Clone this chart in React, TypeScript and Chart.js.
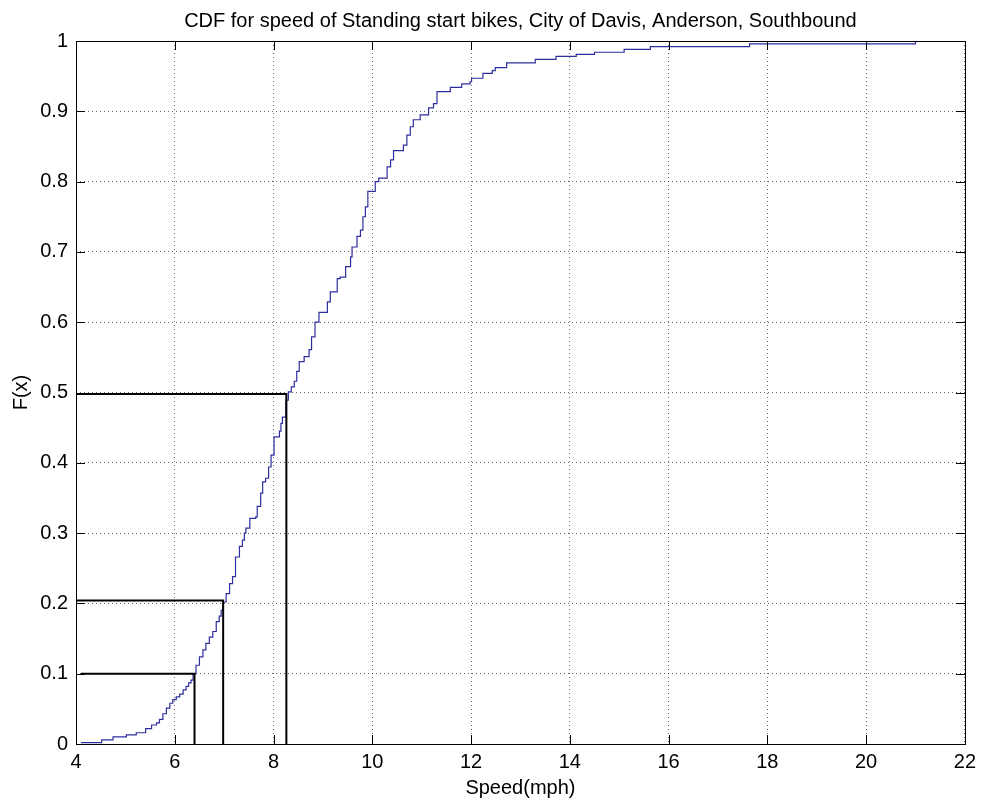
import React, { useEffect, useRef } from "react";
import { Chart, registerables } from "chart.js";

Chart.register(...registerables);

const titleText = "CDF for speed of Standing start bikes, City of Davis, Anderson, Southbound";
const xAxisLabel = "Speed(mph)";
const yAxisLabel = "F(x)";

const xTickValues = [4, 6, 8, 10, 12, 14, 16, 18, 20, 22];
const yTickValues = [0, 0.1, 0.2, 0.3, 0.4, 0.5, 0.6, 0.7, 0.8, 0.9, 1];

// Empirical CDF: speed (mph) where each step occurs, and F(x) after the step
const cdfSpeeds = [
  4.10, 4.52, 4.75, 5.02, 5.22, 5.41, 5.53, 5.63, 5.69, 5.76,
  5.83, 5.90, 5.96, 6.03, 6.10, 6.17, 6.23, 6.28, 6.33, 6.37,
  6.43, 6.50, 6.57, 6.63, 6.70, 6.77, 6.84, 6.90, 6.94, 6.98,
  7.04, 7.11, 7.17, 7.23, 7.31, 7.37, 7.41, 7.44, 7.52, 7.64,
  7.67, 7.74, 7.78, 7.84, 7.90, 7.95, 8.01, 8.12, 8.15, 8.18,
  8.25, 8.30, 8.36, 8.42, 8.47, 8.52, 8.62, 8.72, 8.77, 8.84,
  8.92, 9.09, 9.15, 9.29, 9.35, 9.46, 9.56, 9.59, 9.69, 9.76,
  9.81, 9.86, 9.91, 10.06, 10.13, 10.30, 10.37, 10.43, 10.63, 10.70,
  10.77, 10.83, 10.97, 11.14, 11.24, 11.31, 11.58, 11.81, 11.98, 12.01,
  12.24, 12.43, 12.49, 12.72, 13.30, 13.72, 14.13, 14.50, 15.10, 15.63,
  17.64, 21.00,
];
const cdfValues = [
  0.002, 0.006, 0.010, 0.013, 0.016, 0.022, 0.027, 0.030, 0.035, 0.043,
  0.051, 0.058, 0.063, 0.067, 0.071, 0.077, 0.082, 0.087, 0.091, 0.100,
  0.112, 0.124, 0.134, 0.143, 0.152, 0.160, 0.174, 0.182, 0.190, 0.202,
  0.214, 0.228, 0.238, 0.266, 0.281, 0.290, 0.300, 0.307, 0.321, 0.323,
  0.338, 0.357, 0.373, 0.378, 0.394, 0.411, 0.437, 0.445, 0.456, 0.465,
  0.489, 0.501, 0.508, 0.516, 0.530, 0.544, 0.551, 0.561, 0.579, 0.600,
  0.614, 0.629, 0.643, 0.662, 0.664, 0.679, 0.693, 0.707, 0.722, 0.731,
  0.750, 0.764, 0.786, 0.800, 0.805, 0.821, 0.831, 0.844, 0.852, 0.866,
  0.878, 0.888, 0.895, 0.905, 0.911, 0.928, 0.934, 0.939, 0.942, 0.947,
  0.954, 0.958, 0.962, 0.969, 0.974, 0.978, 0.981, 0.984, 0.988, 0.992,
  0.996, 1.000,
];

// Percentile marker lines
const percentileLevels = [0.1, 0.204, 0.498];
const percentileSpeeds = [6.40, 6.98, 8.26];
const percentileStarts = [4.1, 4.0, 4.0];

const FONT = '"Liberation Sans", Arial, Helvetica, sans-serif';

const framePlugin = {
  id: "matlabFrame",
  afterDraw(chart: any) {
    const { ctx, chartArea } = chart;
    const { left, right, top, bottom } = chartArea;
    const xs = chart.scales.x;
    const ys = chart.scales.y;
    ctx.save();
    ctx.strokeStyle = "#000";
    ctx.lineWidth = 1;
    ctx.beginPath();
    const tl = 9;
    xTickValues.forEach((v) => {
      const px = Math.round(xs.getPixelForValue(v)) + 0.5;
      ctx.moveTo(px, bottom);
      ctx.lineTo(px, bottom - tl);
      ctx.moveTo(px, top);
      ctx.lineTo(px, top + tl);
    });
    yTickValues.forEach((v) => {
      const py = Math.round(ys.getPixelForValue(v)) + 0.5;
      ctx.moveTo(left, py);
      ctx.lineTo(left + tl, py);
      ctx.moveTo(right, py);
      ctx.lineTo(right - tl, py);
    });
    ctx.stroke();
    ctx.strokeRect(Math.round(left) + 0.5, Math.round(top) + 0.5, Math.round(right - left), Math.round(bottom - top));
    // title
    ctx.fillStyle = "#000";
    ctx.font = `20px ${FONT}`;
    ctx.textAlign = "center";
    ctx.textBaseline = "middle";
    ctx.fillText(titleText, (left + right) / 2, 21);
    ctx.restore();
  },
};

export default function App() {
  const canvasRef = useRef<HTMLCanvasElement | null>(null);

  useEffect(() => {
    document.body.style.margin = "0";
    const canvas = canvasRef.current;
    if (!canvas) return;

    const percentileDatasets = percentileLevels.map((lvl, i) => ({
      label: `p${i}`,
      data: [
        { x: percentileStarts[i], y: lvl },
        { x: percentileSpeeds[i], y: lvl },
        { x: percentileSpeeds[i], y: 0 },
      ],
      borderColor: "#000",
      borderWidth: 2,
      pointRadius: 0,
      fill: false,
      tension: 0,
      order: 1,
    }));

    const chart = new Chart(canvas, {
      type: "line",
      data: {
        datasets: [
          {
            label: "CDF",
            data: cdfSpeeds.map((s, i) => ({ x: s, y: cdfValues[i] })),
            borderColor: "#2e2e9e",
            borderWidth: 1.2,
            pointRadius: 0,
            stepped: "before",
            fill: false,
            order: 2,
          },
          ...percentileDatasets,
        ] as any,
      },
      options: {
        animation: false,
        responsive: false,
        devicePixelRatio: 1,
        layout: { padding: { top: 41, right: 13, bottom: 0, left: 0 } },
        plugins: {
          legend: { display: false },
          tooltip: { enabled: false },
          title: { display: false },
        },
        scales: {
          x: {
            type: "linear",
            min: 4,
            max: 22,
            afterBuildTicks: (scale: any) => {
              scale.ticks = xTickValues.map((v) => ({ value: v }));
            },
            afterFit: (scale: any) => {
              scale.height = 57;
            },
            ticks: {
              color: "#000",
              font: { family: FONT, size: 20 },
              padding: 6,
              maxRotation: 0,
              autoSkip: false,
              callback: (v: any) => String(v),
            },
            grid: {
              color: "rgba(0,0,0,0.6)",
              lineWidth: 1,
              drawTicks: false,
            },
            border: { display: false, dash: [1, 3] },
            title: {
              display: true,
              text: xAxisLabel,
              color: "#000",
              font: { family: FONT, size: 20 },
              padding: { top: 0, bottom: 1 },
            },
          },
          y: {
            type: "linear",
            min: 0,
            max: 1,
            afterBuildTicks: (scale: any) => {
              scale.ticks = yTickValues.map((v) => ({ value: v }));
            },
            afterFit: (scale: any) => {
              scale.width = 76;
            },
            ticks: {
              color: "#000",
              font: { family: FONT, size: 20 },
              padding: 8,
              autoSkip: false,
              callback: (v: any) => String(Math.round(Number(v) * 10) / 10),
            },
            grid: {
              color: "rgba(0,0,0,0.6)",
              lineWidth: 1,
              drawTicks: false,
            },
            border: { display: false, dash: [1, 3] },
            title: {
              display: true,
              text: yAxisLabel,
              color: "#000",
              font: { family: FONT, size: 20 },
              padding: { top: 9, bottom: 0 },
            },
          },
        },
      } as any,
      plugins: [framePlugin],
    });

    return () => {
      chart.destroy();
    };
  }, []);

  return (
    <div style={{ width: 982, height: 801, background: "#fff" }}>
      <canvas ref={canvasRef} width={982} height={801} style={{ display: "block", width: 982, height: 801 }} />
    </div>
  );
}
